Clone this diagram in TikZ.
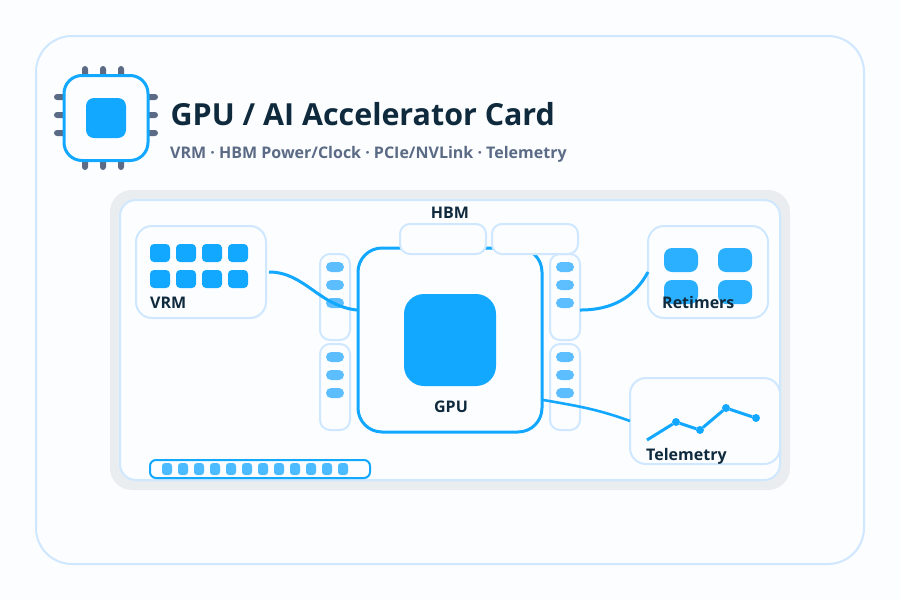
\documentclass[tikz,border=0pt]{standalone}
\usepackage{fontspec}
\setmainfont{Open Sans}
\definecolor{pagebg}{RGB}{252,253,255}
\definecolor{edgeblue}{RGB}{207,232,255}
\definecolor{mainblue}{RGB}{18,168,255}
\definecolor{pillblue}{RGB}{92,190,255}
\definecolor{retblue}{RGB}{42,176,255}
\definecolor{buscell}{RGB}{77,187,255}
\definecolor{boardgray}{RGB}{233,237,239}
\definecolor{pingray}{RGB}{91,107,133}
\definecolor{inkdark}{RGB}{15,42,61}
\begin{document}
\begin{tikzpicture}[x=1pt,y=-1pt,
    box/.style={rectangle, draw=edgeblue, fill=pagebg, line width=2pt, inner sep=0pt, outer sep=0pt},
    cell/.style={rectangle, fill=mainblue, inner sep=0pt, outer sep=0pt, rounded corners=4pt, minimum width=20pt, minimum height=18pt},
    pill/.style={rectangle, fill=pillblue, inner sep=0pt, outer sep=0pt, rounded corners=5pt, minimum width=18pt, minimum height=10pt},
    pin/.style={rectangle, fill=pingray, inner sep=0pt, outer sep=0pt, rounded corners=3pt},
    strip/.style={box, rounded corners=10pt, minimum width=30pt, minimum height=86pt},
    label/.style={inkdark, font=\fontsize{16}{18}\selectfont\bfseries},
    link/.style={mainblue, line width=3pt},
    dot/.style={circle, fill=mainblue, inner sep=0pt, outer sep=0pt, minimum size=8pt}
]
    \useasboundingbox (0,0) rectangle (900,600);
    \fill[pagebg] (0,0) rectangle (900,600);

    % Card and title
    \node[box, rounded corners=36pt, minimum width=828pt, minimum height=528pt] (card) at (450,300) {};
    \foreach \x in {85,103,121} {
        \node[pin, minimum width=6pt, minimum height=12pt] (PT\x) at (\x,72) {};
        \node[pin, minimum width=6pt, minimum height=12pt] (PB\x) at (\x,164) {};
    }
    \foreach \y in {97,115,133} {
        \node[pin, minimum width=12pt, minimum height=6pt] (PL\y) at (60,\y) {};
        \node[pin, minimum width=12pt, minimum height=6pt] (PR\y) at (152,\y) {};
    }
    \node[rectangle, draw=mainblue, fill=pagebg, line width=3pt, rounded corners=18pt, minimum width=84pt, minimum height=85pt] (chip) at (106,118) {};
    \node[cell, rounded corners=8pt, minimum width=40pt, minimum height=40pt] (die) at (106,118) {};
    \node[anchor=base west, inner sep=0pt, inkdark, font=\fontsize{30.4}{34}\selectfont\bfseries] (title) at (170.5,125) {GPU / AI Accelerator Card};
    \node[anchor=base west, inner sep=0pt, pingray, font=\fontsize{16}{18}\selectfont\bfseries] (subtitle) at (170,158) {VRM · HBM Power/Clock · PCIe/NVLink · Telemetry};

    % Board
    \node[rectangle, fill=boardgray, inner sep=0pt, rounded corners=22pt, minimum width=680pt, minimum height=300pt] (board) at (450,340) {};
    \node[box, rounded corners=16pt, minimum width=660pt, minimum height=280pt] (pcb) at (450,340) {};

    % VRM
    \node[box, rounded corners=16pt, minimum width=130pt, minimum height=92pt] (VRM) at (201,272) {};
    \foreach \x in {160,186,212,238} {
        \node[cell] (VA\x) at (\x,253) {};
        \node[cell] (VB\x) at (\x,279) {};
    }
    \node[label, anchor=base west, inner sep=0pt] (VRMlabel) at (150,308) {VRM};

    % Decoupling strips
    \node[strip] (L1) at (335,297) {};
    \node[strip] (L2) at (335,387) {};
    \node[strip] (R1) at (565,297) {};
    \node[strip] (R2) at (565,387) {};
    \foreach \s/\x in {L/335,R/565} {
        \foreach \y in {267,285,303} {
            \node[pill] (\s A\y) at (\x,\y) {};
        }
        \foreach \y in {357,375,393} {
            \node[pill] (\s B\y) at (\x,\y) {};
        }
    }

    % GPU package
    \node[rectangle, draw=mainblue, fill=pagebg, line width=3pt, inner sep=0pt, outer sep=0pt, rounded corners=24pt, minimum width=184pt, minimum height=184pt] (GPU) at (450,340) {};
    \node[cell, rounded corners=20pt, minimum width=92pt, minimum height=92pt] (core) at (450,340) {};
    \node[label, anchor=base, inner sep=0pt] (GPUlabel) at (451,412) {GPU};
    \node[box, rounded corners=10pt, minimum width=86pt, minimum height=30pt] (HBM1) at (443,239) {};
    \node[box, rounded corners=10pt, minimum width=86pt, minimum height=30pt] (HBM2) at (535,239) {};
    \node[label, anchor=base, inner sep=0pt] (HBMlabel) at (450,218) {HBM};

    % Retimers
    \node[box, rounded corners=16pt, minimum width=120pt, minimum height=92pt] (RET) at (708,272) {};
    \foreach \x in {681,735} {
        \foreach \y in {260,292} {
            \node[cell, fill=retblue, rounded corners=8pt, minimum width=34pt, minimum height=24pt] (C\x\y) at (\x,\y) {};
        }
    }
    \node[label, anchor=base west, inner sep=0pt] (RETlabel) at (662,308) {Retimers};

    % Telemetry
    \node[box, rounded corners=16pt, minimum width=150pt, minimum height=86pt] (TEL) at (705,421) {};
    \coordinate (T0) at (647,440);
    \node[dot] (T1) at (676,422) {};
    \node[dot] (T2) at (700,430) {};
    \node[dot] (T3) at (726,408) {};
    \node[dot] (T4) at (756,418) {};
    \draw[link] (T0) -- (T1) -- (T2) -- (T3) -- (T4);
    \node[label, anchor=base west, inner sep=0pt] (TELlabel) at (646,460) {Telemetry};

    % Bus connector
    \node[rectangle, draw=mainblue, fill=pagebg, line width=2pt, inner sep=0pt, rounded corners=6pt, minimum width=220pt, minimum height=18pt] (bus) at (260,469) {};
    \foreach \i in {0,...,11} {
        \node[cell, fill=buscell, rounded corners=3pt, minimum width=10pt, minimum height=12pt] (B\i) at (167+16*\i,469) {};
    }

    % Connections
    \draw[link, shorten <=3pt] (VRM.east) to[out=0, in=175] (GPU.162);
    \draw[link] (R1.-41) to[out=0, in=-118] (RET.west);
    \draw[link, line width=2.6pt] (GPU.-33) to[out=-10, in=160] (TEL.west);
\end{tikzpicture}
\end{document}
